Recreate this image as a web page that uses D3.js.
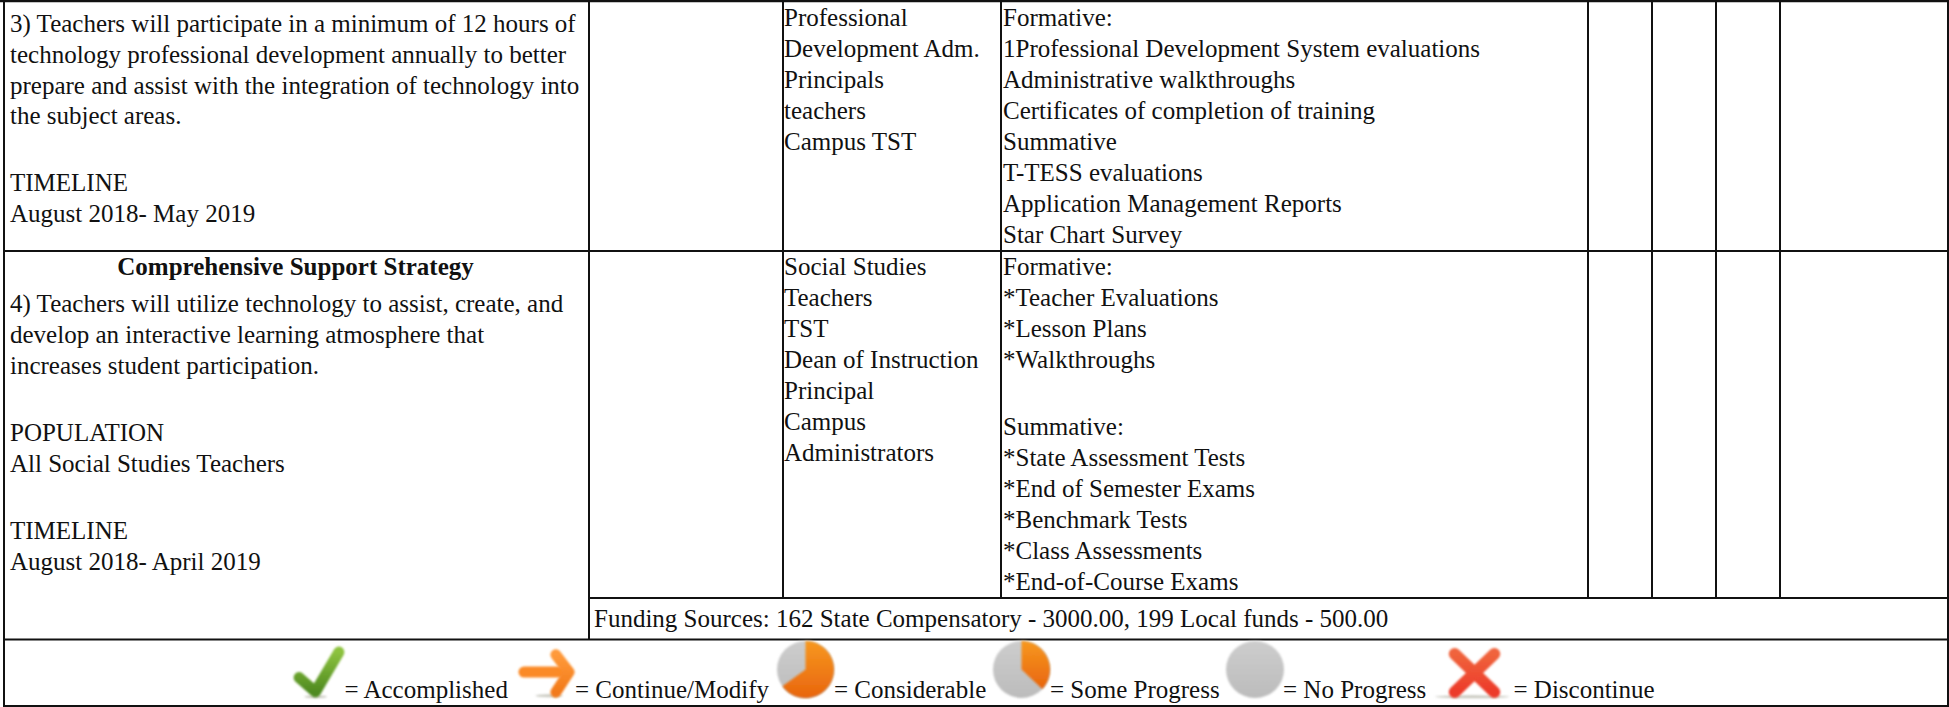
<!DOCTYPE html>
<html><head><meta charset="utf-8">
<script src="https://cdn.jsdelivr.net/npm/d3@7"></script>
<style>html,body{margin:0;padding:0;background:#fff;overflow:hidden}svg{display:block}text{font-family:"Liberation Serif",serif;fill:#111}</style>
</head><body><svg id="c" width="1949" height="707"></svg>
<script>
const goal3 = ["3) Teachers will participate in a minimum of 12 hours of","technology professional development annually to better","prepare and assist with the integration of technology into","the subject areas.","","TIMELINE","August 2018- May 2019"];
const staff3 = ["Professional","Development Adm.","Principals","teachers","Campus TST"];
const eval3 = ["Formative:","1Professional Development System evaluations","Administrative walkthroughs","Certificates of completion of training","Summative","T-TESS evaluations","Application Management Reports","Star Chart Survey"];
const heading4 = "Comprehensive Support Strategy";
const goal4 = ["4) Teachers will utilize technology to assist, create, and","develop an interactive learning atmosphere that","increases student participation.","","POPULATION","All Social Studies Teachers","","TIMELINE","August 2018- April 2019"];
const staff4 = ["Social Studies","Teachers","TST","Dean of Instruction","Principal","Campus","Administrators"];
const eval4 = ["Formative:","*Teacher Evaluations","*Lesson Plans","*Walkthroughs","","Summative:","*State Assessment Tests","*End of Semester Exams","*Benchmark Tests","*Class Assessments","*End-of-Course Exams"];
const funding = "Funding Sources: 162 State Compensatory - 3000.00, 199 Local funds - 500.00";
const legendLabels = ["= Accomplished","= Continue/Modify","= Considerable","= Some Progress","= No Progress","= Discontinue"];
const legendIcons = ["check","arrow","pie","some","none","x"];

const svg = d3.select("#c");
const defs = svg.append("defs");
function grad(id,a,b){const g=defs.append("linearGradient").attr("id",id).attr("x1",0).attr("y1",0).attr("x2",0).attr("y2",1);
 g.append("stop").attr("offset",0).attr("stop-color",a);g.append("stop").attr("offset",1).attr("stop-color",b);}
grad("gG","#8cc23e","#4f8a20");grad("gO","#ff9a3a","#f27a1a");grad("gP","#f7981f","#e8650e");grad("gN","#cdcdcd","#bcbcbc");grad("gX","#f0643c","#ec3a2a");
const blur=defs.append("filter").attr("id","soft").attr("filterUnits","userSpaceOnUse").attr("x",0).attr("y",0).attr("width",1949).attr("height",707);
blur.append("feGaussianBlur").attr("stdDeviation",0.8);

const lines = svg.append("g").attr("stroke","#111");
const hl=(x1,x2,y,w=2)=>lines.append("line").attr("x1",x1).attr("x2",x2).attr("y1",y).attr("y2",y).attr("stroke-width",w);
const vl=(x,y1,y2,w=2)=>lines.append("line").attr("x1",x).attr("x2",x).attr("y1",y1).attr("y2",y2).attr("stroke-width",w);
hl(0,1949,1,2.5);hl(3,1949,251,2);hl(589,1949,598,2);hl(3,1949,639.5,2);hl(3,1949,706,2);
vl(4,0,707);vl(1948,0,707,2);
vl(589,0,639);
vl(783,0,598);vl(1001,0,598);
[1588,1652,1716,1780].forEach(x=>vl(x,0,598));

function block(arr,x,y0,pitch,blank,size){
 let y=y0;const ys=arr.map(d=>{const v=y;y+=d===""?blank:pitch;return v;});
 svg.append("g").selectAll("text").data(arr).join("text")
  .attr("x",x).attr("y",(d,i)=>ys[i]).attr("font-size",size).text(d=>d);
}
const fs=25;
block(goal3,10,32,30.8,35.5,fs);
block(staff3,784,26,30.9,36,fs);
block(eval3,1003,26,31,36,fs);
svg.append("text").attr("x",295.5).attr("y",275).attr("text-anchor","middle").attr("font-size",fs).attr("font-weight","bold").text(heading4);
block(goal4,10,312,30.8,36.6,fs);
block(staff4,784,275,31,36,fs);
block(eval4,1003,275,31,36,fs);
svg.append("text").attr("x",594).attr("y",626.5).attr("font-size",fs).text(funding);

const iconBoxes = {check:[294,647,51,51],arrow:[519,649,55,48],pie:[777,641,57,57],some:[993,641,57,57],none:[1226,641,58,57],x:[1435,648,76,50]};
const labelX = [344.5,575,834,1050,1283,1513.5];
function drawIcon(g,k,[x,y,w,h]){
 const px=d3.scaleLinear().domain([0,1]).range([x,x+w]), py=d3.scaleLinear().domain([0,1]).range([y,y+h]);
 const cx=x+w/2, cy=y+h/2, ell=(fill)=>g.append("ellipse").attr("cx",cx).attr("cy",cy).attr("rx",w/2).attr("ry",h/2).attr("fill",fill).attr("filter","url(#soft)");
 const wedge=(a0,a1,fill)=>{const p=d3.path();p.moveTo(cx,cy);const n=40;for(let i=0;i<=n;i++){const a=a0+(a1-a0)*i/n;p.lineTo(cx+w/2*Math.sin(a),cy-h/2*Math.cos(a));}p.closePath();
   g.append("path").attr("d",p.toString()).attr("fill",fill).attr("filter","url(#soft)");};
 const stroke=(pts,col,t)=>g.append("path").attr("d",d3.line()(pts.map(([a,b])=>[px(a),py(b)]))).attr("fill","none").attr("stroke",col).attr("stroke-width",t).attr("stroke-linecap","round").attr("stroke-linejoin","round").attr("filter","url(#soft)");
 const shadow=(a,b)=>g.append("ellipse").attr("cx",px((a+b)/2)).attr("cy",y+h-1.2).attr("rx",w*(b-a)/2).attr("ry",1.5).attr("fill","#c9c9c0").attr("filter","url(#soft)");
 if(k==="check"){
  shadow(.2,.65);
  stroke([[.1,.6],[.42,.88],[.88,.1]],"url(#gG)",11);
 } else if(k==="arrow"){
  shadow(.3,.8);
  stroke([[.09,.48],[.84,.48]],"#fb8a26",11);
  stroke([[.67,.12],[.91,.48],[.67,.9]],"url(#gO)",11);
 } else if(k==="pie"){ ell("url(#gN)"); wedge(0,Math.PI*1.3,"url(#gP)"); }
 else if(k==="some"){ ell("url(#gN)"); wedge(0,Math.PI*0.74,"url(#gP)"); }
 else if(k==="none"){ ell("url(#gN)"); }
 else {
  shadow(0,.98);
  stroke([[.26,.12],[.78,.88]],"url(#gX)",12);
  stroke([[.78,.12],[.26,.88]],"url(#gX)",12);
 }
}
const lg=svg.append("g");
legendIcons.forEach(k=>drawIcon(lg.append("g"),k,iconBoxes[k]));
lg.selectAll("text").data(legendLabels).join("text").attr("x",(d,i)=>labelX[i]).attr("y",697.5).attr("font-size",fs).text(d=>d);
</script></body></html>
